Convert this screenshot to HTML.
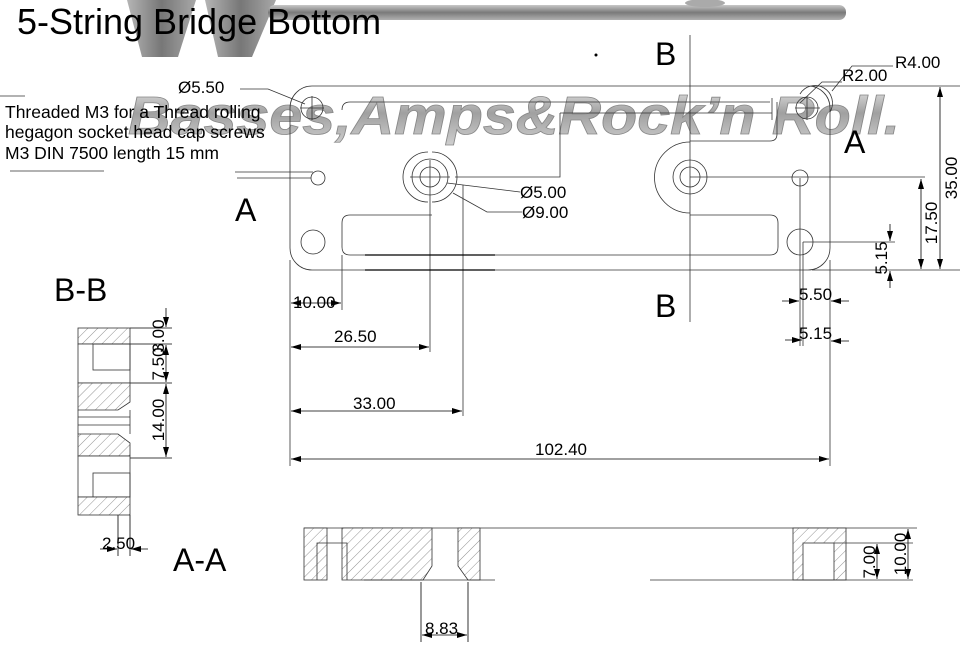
<!DOCTYPE html>
<html><head><meta charset="utf-8"><style>
html,body{margin:0;padding:0;background:#fff;}
svg{display:block;}
text{font-family:"Liberation Sans",sans-serif;fill:#000;}
</style></head><body>
<svg width="970" height="650" viewBox="0 0 970 650" xmlns="http://www.w3.org/2000/svg">
<defs>
<linearGradient id="wm" x1="0" y1="0" x2="0" y2="1">
<stop offset="0" stop-color="#e6e6e6"/><stop offset="0.45" stop-color="#a0a0a0"/><stop offset="1" stop-color="#d0d0d0"/></linearGradient>
<linearGradient id="bar" x1="0" y1="0" x2="0" y2="1">
<stop offset="0" stop-color="#c8c8c8"/><stop offset="0.5" stop-color="#7a7a7a"/><stop offset="1" stop-color="#b0b0b0"/></linearGradient>
<linearGradient id="vg" x1="0" y1="0" x2="1" y2="0">
<stop offset="0" stop-color="#b5b5b5"/><stop offset="0.5" stop-color="#777"/><stop offset="1" stop-color="#a8a8a8"/></linearGradient>
<pattern id="h" width="7" height="7" patternUnits="userSpaceOnUse" patternTransform="rotate(45)">
<rect width="7" height="7" fill="#fff"/><line x1="0" y1="0" x2="0" y2="7" stroke="#777" stroke-width="0.8"/></pattern>
<marker id="ar" viewBox="0 0 10 6" refX="10" refY="3" markerWidth="10" markerHeight="6" markerUnits="userSpaceOnUse" orient="auto-start-reverse"><path d="M0,0 L10,3 L0,6 Z" fill="#000"/></marker>
</defs>

<path d="M127,0 L196,0 L178,57 L142,57 Z" fill="url(#vg)"/>
<path d="M205,0 L276,0 L252,57 L218,57 Z" fill="url(#vg)"/>
<rect x="268" y="5" width="578" height="15" rx="7" fill="url(#bar)"/>
<ellipse cx="705" cy="3" rx="20" ry="4" fill="#aaa"/>

<text x="128" y="134" font-size="54" font-weight="bold" font-style="italic" textLength="772" lengthAdjust="spacingAndGlyphs" style="fill:url(#wm)" stroke="#888" stroke-width="0.8">Basses,Amps&amp;Rock’n Roll.</text>

<text x="17" y="34" font-size="36">5-String Bridge Bottom</text>

<g fill="none" stroke="#333" stroke-width="0.8">
<rect x="290" y="86" width="540" height="184" rx="22"/>
<line x1="812" y1="86" x2="960" y2="86"/>
<line x1="812" y1="270" x2="960" y2="270"/>
<path d="M342,110 Q342,102 350,102 L770,102"/>
<path d="M560,113 L772,113 M560,113 L560,177 L455,177"/>
<path d="M690,141 L770,141 Q777,141 777,134 L777,102"/>
<path d="M432,215 L350,215 Q342,215 342,223 L342,247 Q342,255 350,255 L770,255 Q778,255 778,247 L778,223 Q778,215 770,215 L690,215"/>
<circle cx="430" cy="177" r="10"/><circle cx="430" cy="177" r="18"/>
<path d="M432,152 A25,25 0 0 1 432,202"/>
<path d="M428,152 A25,25 0 0 0 428,202"/>
<circle cx="690" cy="177" r="10"/><circle cx="690" cy="177" r="17"/>
<path d="M690,142 A35,35 0 0 0 690,213"/>
<circle cx="312" cy="108" r="11"/><circle cx="318" cy="178" r="7"/><circle cx="313" cy="242" r="12"/>
<circle cx="807" cy="108" r="11"/><path d="M800,94 A14,14 0 0 1 830,112"/>
<circle cx="800" cy="178" r="8"/><circle cx="800" cy="242" r="13"/>
<line x1="300" y1="108" x2="324" y2="108"/><line x1="312" y1="96" x2="312" y2="120"/>
<line x1="795" y1="108" x2="820" y2="108"/><line x1="807" y1="96" x2="807" y2="120"/>
<line x1="772" y1="98" x2="772" y2="120"/>
<line x1="410" y1="177" x2="450" y2="177"/>
<line x1="690" y1="35" x2="690" y2="322"/>
<line x1="690" y1="177" x2="925" y2="177"/>
<line x1="430" y1="160" x2="430" y2="352"/>
<line x1="463" y1="185" x2="463" y2="416"/>
<line x1="800" y1="178" x2="800" y2="346"/>
<line x1="803" y1="242" x2="895" y2="242"/>
<line x1="803" y1="242" x2="803" y2="346"/>
<line x1="830" y1="260" x2="830" y2="466"/>
<line x1="290" y1="260" x2="290" y2="466"/>
<line x1="342" y1="255" x2="342" y2="310"/>
<line x1="235" y1="172" x2="313" y2="172"/>
<line x1="237" y1="178" x2="311" y2="178"/>
<line x1="0" y1="96" x2="25" y2="96"/>
<line x1="10" y1="171" x2="104" y2="171"/>
<path d="M240,89 L268,89 L305,104"/>
<path d="M520,192 L447,183"/>
<path d="M522,212 L487,212 L453,193"/>
<path d="M893,66 L852,66 L832,91"/>
<path d="M842,82 L822,82 L800,103"/>
</g>
<g stroke="#000" stroke-width="1.2">
<line x1="365" y1="255" x2="495" y2="255"/>
<line x1="365" y1="270" x2="495" y2="270"/>
</g>

<g stroke="#000" stroke-width="0.8" fill="none">
<line x1="291" y1="303" x2="341" y2="303" marker-start="url(#ar)" marker-end="url(#ar)"/>
<line x1="291" y1="347" x2="429" y2="347" marker-start="url(#ar)" marker-end="url(#ar)"/>
<line x1="291" y1="411" x2="462" y2="411" marker-start="url(#ar)" marker-end="url(#ar)"/>
<line x1="291" y1="459" x2="829" y2="459" marker-start="url(#ar)" marker-end="url(#ar)"/>
<line x1="782" y1="301" x2="799" y2="301" marker-end="url(#ar)"/>
<line x1="849" y1="301" x2="831" y2="301" marker-end="url(#ar)"/>
<line x1="785" y1="340" x2="802" y2="340" marker-end="url(#ar)"/>
<line x1="849" y1="341" x2="831" y2="341" marker-end="url(#ar)"/>
<line x1="940" y1="87" x2="940" y2="269" marker-start="url(#ar)" marker-end="url(#ar)"/>
<line x1="921" y1="179" x2="921" y2="269" marker-start="url(#ar)" marker-end="url(#ar)"/>
<line x1="890" y1="224" x2="890" y2="241" marker-end="url(#ar)"/>
<line x1="890" y1="288" x2="890" y2="271" marker-end="url(#ar)"/>
<line x1="421" y1="582" x2="421" y2="642"/><line x1="468" y1="582" x2="468" y2="642"/>
<line x1="422" y1="635" x2="467" y2="635" marker-start="url(#ar)" marker-end="url(#ar)"/>
<line x1="877" y1="544" x2="877" y2="579" marker-start="url(#ar)" marker-end="url(#ar)"/>
<line x1="908" y1="529" x2="908" y2="579" marker-start="url(#ar)" marker-end="url(#ar)"/>
<line x1="130" y1="328" x2="172" y2="328"/><line x1="130" y1="344" x2="172" y2="344"/>
<line x1="130" y1="383" x2="172" y2="383"/><line x1="130" y1="458" x2="172" y2="458"/>
<line x1="166" y1="308" x2="166" y2="327" marker-end="url(#ar)"/>
<line x1="166" y1="345" x2="166" y2="382" marker-start="url(#ar)" marker-end="url(#ar)"/>
<line x1="166" y1="384" x2="166" y2="457" marker-start="url(#ar)" marker-end="url(#ar)"/>
<line x1="118" y1="434" x2="118" y2="556"/><line x1="130" y1="515" x2="130" y2="556"/>
<line x1="100" y1="549" x2="117" y2="549" marker-end="url(#ar)"/>
<line x1="148" y1="549" x2="131" y2="549" marker-end="url(#ar)"/>
</g>

<g stroke="#333" stroke-width="0.8">
<rect x="78" y="328" width="52" height="16" fill="url(#h)"/>
<rect x="78" y="344" width="52" height="39" fill="#fff"/>
<rect x="93" y="344" width="37" height="26" fill="none"/>
<path d="M78,383 L130,383 L130,402 L118,410 L78,410 Z" fill="url(#h)"/>
<line x1="78" y1="410" x2="78" y2="434" /><line x1="130" y1="410" x2="130" y2="434"/>
<line x1="78" y1="417" x2="130" y2="417"/><line x1="78" y1="425" x2="130" y2="425"/>
<path d="M78,434 L118,434 L130,443 L130,456 L78,456 Z" fill="url(#h)"/>
<rect x="78" y="456" width="52" height="41" fill="#fff"/>
<rect x="93" y="473" width="37" height="24" fill="none"/>
<rect x="78" y="497" width="52" height="18" fill="url(#h)"/>
</g>

<g stroke="#333" stroke-width="0.8">
<line x1="304" y1="528" x2="917" y2="528"/>
<rect x="304" y="528" width="23" height="52" fill="url(#h)"/>
<path d="M342,528 L432,528 L432,566 L423,580 L342,580 Z" fill="url(#h)"/>
<path d="M458,528 L480,528 L480,580 L468,580 L458,566 Z" fill="url(#h)"/>
<path d="M317,580 L317,543 L347,543 L347,580" fill="none"/>
<line x1="364" y1="580" x2="495" y2="580"/>
<rect x="793" y="528" width="53" height="52" fill="url(#h)"/>
<rect x="803" y="543" width="31" height="37" fill="#fff"/>
<line x1="834" y1="543" x2="913" y2="543"/>
<line x1="650" y1="580" x2="913" y2="580"/>
</g>

<g font-size="17">
<text x="5" y="118" font-size="17.5">Threaded M3 for a Thread rolling</text>
<text x="5" y="138" font-size="17.5">hegagon socket head cap screws</text>
<text x="5" y="159" font-size="17.5">M3 DIN 7500 length 15 mm</text>
<text x="178" y="93">Ø5.50</text>
<text x="520" y="198">Ø5.00</text>
<text x="522" y="218">Ø9.00</text>
<text x="842" y="81">R2.00</text>
<text x="895" y="68">R4.00</text>
<text x="293" y="308">10.00</text>
<text x="334" y="342">26.50</text>
<text x="353" y="409">33.00</text>
<text x="535" y="455">102.40</text>
<text x="799" y="300">5.50</text>
<text x="799" y="339">5.15</text>
<text x="102" y="549">2.50</text>
<text x="425" y="634">8.83</text>
<text transform="translate(957,178) rotate(-90)" text-anchor="middle">35.00</text>
<text transform="translate(937,223) rotate(-90)" text-anchor="middle">17.50</text>
<text transform="translate(887,258) rotate(-90)" text-anchor="middle">5.15</text>
<text transform="translate(164,336) rotate(-90)" text-anchor="middle">3.00</text>
<text transform="translate(164,364) rotate(-90)" text-anchor="middle">7.50</text>
<text transform="translate(164,420) rotate(-90)" text-anchor="middle">14.00</text>
<text transform="translate(875,562) rotate(-90)" text-anchor="middle">7.00</text>
<text transform="translate(906,554) rotate(-90)" text-anchor="middle">10.00</text>
</g>
<g font-size="32">
<text x="235" y="221">A</text>
<text x="844" y="153">A</text>
<text x="655" y="65">B</text>
<text x="655" y="317">B</text>
<text x="54" y="301">B-B</text>
<text x="173" y="571">A-A</text>
</g>
<circle cx="596" cy="55" r="1.5" fill="#000"/>
</svg>
</body></html>
